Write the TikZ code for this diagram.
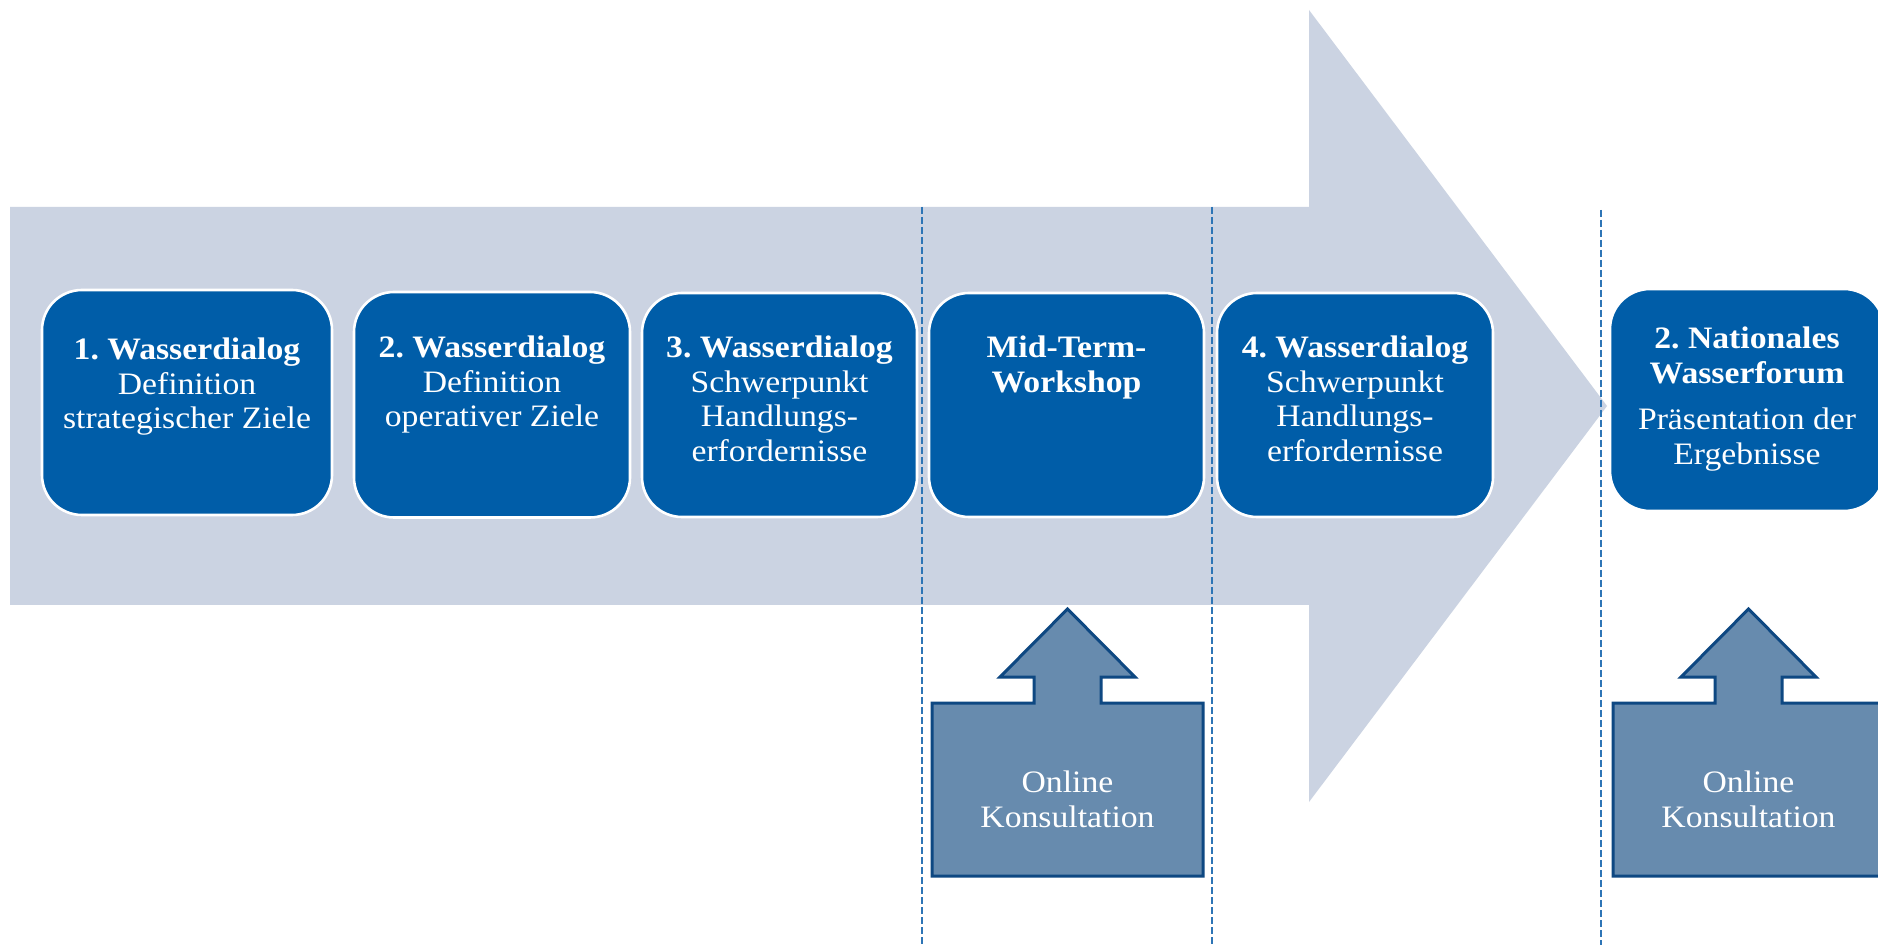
\documentclass[tikz,border=0pt]{standalone}
\usepackage{fontspec}
\setmainfont{Liberation Serif}[FakeStretch=1.08]
\frenchspacing
\definecolor{boxblue}{HTML}{005DA8}
\definecolor{flow}{HTML}{CBD3E2}
\definecolor{sepblue}{HTML}{2E75B6}
\definecolor{arrfill}{HTML}{678BAE}
\definecolor{arrline}{HTML}{0E4882}
\begin{document}
\frenchspacing
\begin{tikzpicture}[x=0.5pt,y=-0.5pt,
  stepbox/.style={draw=white, line width=1.3pt, fill=boxblue, rounded corners=20pt, inner sep=0pt},
  boxtext/.style={text=white, align=center, anchor=north, inner sep=0pt, font=\fontsize{15.6}{17.25}\selectfont\frenchspacing},
  sep/.style={draw=sepblue, line width=0.75pt, dash pattern=on 3.5pt off 1.5pt},
  uparrow/.style={fill=arrfill, draw=arrline, line width=1.5pt, line join=miter},
]
\useasboundingbox (0,0) rectangle (1878,945);
\fill[white] (0,0) rectangle (1878,945);
% big process arrow
\fill[flow] (10,207) -- (1309,207) -- (1309,10) -- (1607,406) -- (1309,802) -- (1309,605) -- (10,605) -- cycle;
% dashed separators
\coordinate (d1t) at (922,207);  \coordinate (d1b) at (922,945);
\coordinate (d2t) at (1212,207); \coordinate (d2b) at (1212,945);
\coordinate (d3t) at (1601,210); \coordinate (d3b) at (1601,945);
\draw[sep] (d1t) -- (d1b);
\draw[sep] (d2t) -- (d2b);
\draw[sep] (d3t) -- (d3b);
% step boxes
\node[stepbox, minimum width=145pt, minimum height=112.5pt] (b1) at (187,402.5) {};
\node[stepbox, minimum width=138pt, minimum height=112.75pt] (b2) at (492,404.75) {};
\node[stepbox, minimum width=137.5pt, minimum height=112pt] (b3) at (779.5,405) {};
\node[stepbox, minimum width=137.5pt, minimum height=112pt] (b4) at (1066.5,405) {};
\node[stepbox, minimum width=138pt, minimum height=112pt] (b5) at (1355,405) {};
\node[stepbox, minimum width=137pt, minimum height=111pt] (b6) at (1747,400) {};
% texts
\node[boxtext] (t1) at (187,337.5) {\textbf{1. Wasserdialog}\\Definition\\strategischer Ziele};
\node[boxtext] (t2) at (492,335.7) {\textbf{2. Wasserdialog}\\Definition\\operativer Ziele};
\node[boxtext] (t3) at (779.5,335.7) {\textbf{3. Wasserdialog}\\Schwerpunkt\\Handlungs-\\erfordernisse};
\node[boxtext] (t4) at (1066.5,335.7) {\textbf{Mid-Term-}\\\textbf{Workshop}};
\node[boxtext] (t5) at (1355,335.7) {\textbf{4. Wasserdialog}\\Schwerpunkt\\Handlungs-\\erfordernisse};
\node[boxtext] (t6) at (1747,326.7) {\textbf{2. Nationales}\\\textbf{Wasserforum}\\[6pt]Präsentation der\\Ergebnisse};
% online consultation up-arrows
\draw[uparrow] (932,876) -- (932,703) -- (1034,703) -- (1034,677) -- (1000,677) -- (1067.5,609) -- (1135,677) -- (1101,677) -- (1101,703) -- (1203,703) -- (1203,876) -- cycle;
\node[boxtext] (o1) at (1067.5,770.7) {Online\\Konsultation};
\draw[uparrow] (1613,876) -- (1613,703) -- (1715,703) -- (1715,677) -- (1681,677) -- (1748.5,609) -- (1816,677) -- (1782,677) -- (1782,703) -- (1884,703) -- (1884,876) -- cycle;
\node[boxtext] (o2) at (1748.5,770.7) {Online\\Konsultation};
\end{tikzpicture}
\end{document}
